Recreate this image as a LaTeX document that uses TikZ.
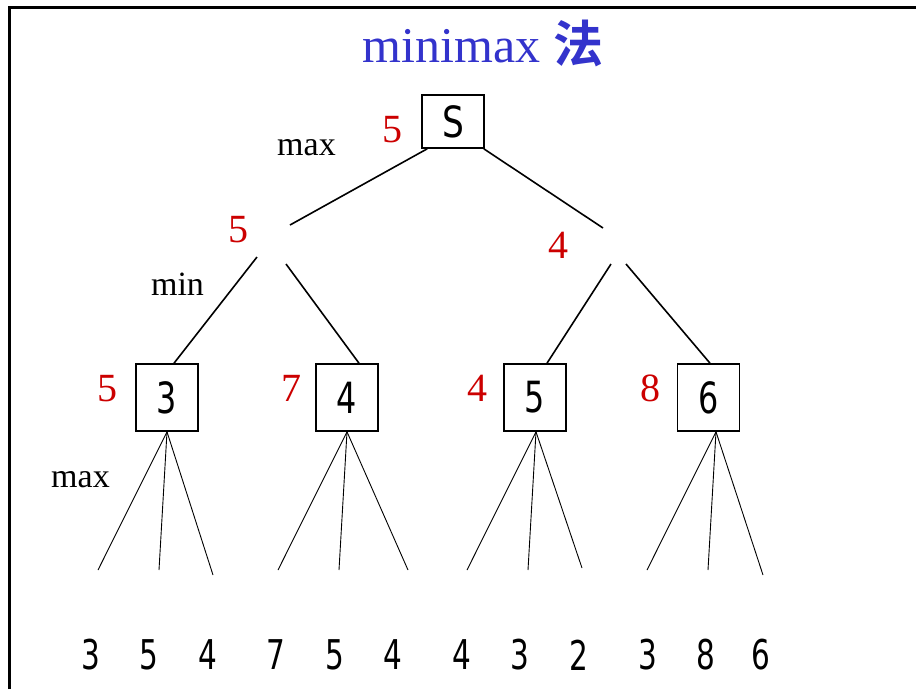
\documentclass[tikz,border=0pt]{standalone}
\usepackage{fontspec}
\setmainfont{Liberation Serif}
\newfontfamily\digfont{DejaVu Sans}
\newfontfamily\cjk{Noto Sans CJK SC Bold}
\usetikzlibrary{calc}
\definecolor{titleblue}{RGB}{51,51,204}
\definecolor{valred}{RGB}{204,0,0}
\tikzset{
  statebox/.style={draw, line width=1.6pt, minimum width=62pt, minimum height=67pt, inner sep=0pt, font=\fontsize{43}{43}\selectfont\digfont},
  rootbox/.style={statebox, minimum height=53pt},
  val/.style={text=valred, inner sep=0pt, font=\fontsize{40}{40}\selectfont},
  levtext/.style={anchor=base, inner sep=0pt, font=\fontsize{34}{34}\selectfont},
  leaf/.style={inner sep=0pt, font=\fontsize{41}{41}\selectfont\digfont},
  edge/.style={line width=1.6pt},
  leafedge/.style={line width=0.9pt}
}
\newcommand{\dg}[1]{\scalebox{0.72}[1]{#1}}
\newcommand{\bx}[1]{\raisebox{-5pt}{\scalebox{0.74}[1]{#1}}\hspace{10pt}}
\begin{document}
\begin{tikzpicture}[x=1pt,y=-1pt]
\useasboundingbox (0,0) rectangle (916,689);
\fill[white] (0,0) rectangle (916,689);
% frame
\draw[line width=3pt] (9.5,689) -- (9.5,7.5) -- (916,7.5);
% title
\node[anchor=base, inner sep=0pt, text=titleblue, font=\fontsize{50}{50}\selectfont] (title) at (483,62) {minimax {\cjk 法}};
% root
\node[rootbox] (S) at (453,121.5) {\scalebox{0.8}[1]{S}};
\node[val] (vS) at (392.5,130) {5};
\node[levtext] (lmax1) at (306.5,155) {max};
% level 1 (no boxes)
\coordinate (a1in) at (290,225);
\coordinate (a1o1) at (257,257);
\coordinate (a1o2) at (286,264);
\coordinate (a2in) at (603,228);
\coordinate (a2o1) at (611,264);
\coordinate (a2o2) at (626,264);
\node[val] (vA1) at (238.5,230) {5};
\node[val] (vA2) at (558.5,245) {4};
\node[levtext] (lmin) at (177.5,295) {min};
% level 2 boxes
\node[statebox] (B3) at (167,397.5) {\bx{3}};
\node[statebox] (B4) at (347,397.5) {\bx{4}};
\node[statebox] (B5) at (535,397.5) {\bx{5}};
\node[statebox] (B6) at (708.5,397.5) {\bx{6}};
\node[val] (v3) at (107.5,388.5) {5};
\node[val] (v4) at (291.5,388.5) {7};
\node[val] (v5) at (477,388.5) {4};
\node[val] (v6) at (650.5,388.5) {8};
\node[levtext] (lmax2) at (80.5,487) {max};
% upper edges
\draw[edge] ([xshift=6pt]S.south west) -- (a1in);
\draw[edge] ([xshift=-1pt]S.south east) -- (a2in);
\draw[edge] (a1o1) -- ([xshift=7pt]B3.north);
\draw[edge] (a1o2) -- ([xshift=12pt]B4.north);
\draw[edge] (a2o1) -- ([xshift=12pt]B5.north);
\draw[edge] (a2o2) -- ([xshift=1.5pt]B6.north);
% leaf line ends
\coordinate (e1) at (98,570);
\coordinate (e2) at (159,570);
\coordinate (e3) at (213,575);
\coordinate (e4) at (278,570);
\coordinate (e5) at (339,570);
\coordinate (e6) at (408,570);
\coordinate (e7) at (467,570);
\coordinate (e8) at (528,570);
\coordinate (e9) at (582,568);
\coordinate (e10) at (647,570);
\coordinate (e11) at (708,570);
\coordinate (e12) at (763,575);
\foreach \b/\s/\i/\j/\k in {B3/0/e1/e2/e3, B4/0/e4/e5/e6, B5/1/e7/e8/e9, B6/7.5/e10/e11/e12}{
  \draw[leafedge] ([xshift=\s pt]\b.south) -- (\i);
  \draw[leafedge] ([xshift=\s pt]\b.south) -- (\j);
  \draw[leafedge] ([xshift=\s pt]\b.south) -- (\k);
}
% leaves
\node[leaf] (t1) at (91,655) {\dg{3}};
\node[leaf] (t2) at (149,655) {\dg{5}};
\node[leaf] (t3) at (208,655) {\dg{4}};
\node[leaf] (t4) at (276,655) {\dg{7}};
\node[leaf] (t5) at (335,655) {\dg{5}};
\node[leaf] (t6) at (393,655) {\dg{4}};
\node[leaf] (t7) at (462,655) {\dg{4}};
\node[leaf] (t8) at (520,655) {\dg{3}};
\node[leaf] (t9) at (579,655) {\dg{2}};
\node[leaf] (t10) at (648,655) {\dg{3}};
\node[leaf] (t11) at (706,655) {\dg{8}};
\node[leaf] (t12) at (761,655) {\dg{6}};
\end{tikzpicture}
\end{document}
